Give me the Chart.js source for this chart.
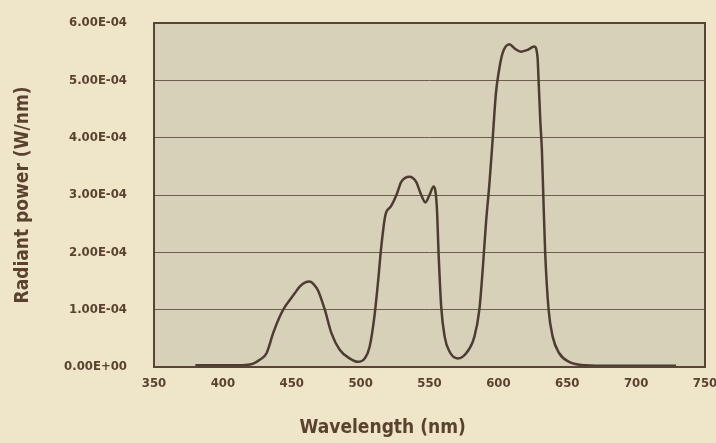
<!DOCTYPE html>
<html>
<head>
<meta charset="utf-8">
<script src="https://cdn.jsdelivr.net/npm/chart.js@4/dist/chart.umd.min.js"></script>
<style>
  html, body { margin: 0; padding: 0; background: #efe5c9; }
  #wrap { width: 716px; height: 443px; position: relative; }
</style>
</head>
<body>
<div id="wrap"><canvas id="chart-spectrum"></canvas></div>
<script>
// wavelength (nm) and radiant power (W/nm)
const wavelengths = [380, 390, 400, 410, 418, 422, 427, 431.7, 436.5, 441.3, 445, 448.6, 452, 455.8, 459.5, 463, 466, 469, 474, 478.8, 484.8, 492, 498, 503, 506.5, 510, 512.5, 515, 518, 522, 526, 529.5, 535.5, 540.3, 544, 547, 550, 553, 555.3, 556.7, 558.5, 561, 564.5, 570.5, 576.6, 582.6, 586.2, 588.6, 591, 593.5, 595.5, 598.2, 600.1, 603, 608, 611.6, 616.4, 621.2, 626, 628.4, 629.2, 630.4, 631.6, 632.6, 634, 636.5, 639.4, 644.2, 651.4, 663.5, 680, 700, 729]
const power = [0.03e-4, 0.03e-4, 0.03e-4, 0.03e-4, 0.04e-4, 0.06e-4, 0.13e-4, 0.24e-4, 0.59e-4, 0.88e-4, 1.05e-4, 1.17e-4, 1.28e-4, 1.40e-4, 1.47e-4, 1.49e-4, 1.44e-4, 1.34e-4, 1.00e-4, 0.59e-4, 0.30e-4, 0.15e-4, 0.09e-4, 0.15e-4, 0.35e-4, 0.88e-4, 1.45e-4, 2.10e-4, 2.65e-4, 2.80e-4, 3.00e-4, 3.23e-4, 3.32e-4, 3.23e-4, 3.00e-4, 2.87e-4, 3.00e-4, 3.15e-4, 2.80e-4, 1.92e-4, 1.05e-4, 0.53e-4, 0.27e-4, 0.15e-4, 0.24e-4, 0.53e-4, 1.00e-4, 1.69e-4, 2.51e-4, 3.20e-4, 3.85e-4, 4.77e-4, 5.12e-4, 5.47e-4, 5.63e-4, 5.56e-4, 5.50e-4, 5.53e-4, 5.59e-4, 5.41e-4, 5.00e-4, 4.31e-4, 3.78e-4, 3.00e-4, 1.98e-4, 0.99e-4, 0.53e-4, 0.24e-4, 0.09e-4, 0.03e-4, 0.02e-4, 0.02e-4, 0.02e-4]
const x_ticks = [350, 400, 450, 500, 550, 600, 650, 700, 750]
const y_ticks = [0, 1e-4, 2e-4, 3e-4, 4e-4, 5e-4, 6e-4]
const x_title = 'Wavelength (nm)'
const y_title = 'Radiant power (W/nm)'

const font_family = '"DejaVu Sans Condensed", "Liberation Sans Narrow", "Roboto Condensed", sans-serif'
const text_color = '#5b4130'

function sci(v){
  if (Math.abs(v) < 1e-12) v = 0
  let parts = v.toExponential(2).split('e')
  let exp = parseInt(parts[1], 10)
  let sign = exp < 0 ? '-' : '+'
  return parts[0] + 'E' + sign + String(Math.abs(exp)).padStart(2, '0')
}

const frame_plugin = {
  id: 'frame',
  beforeDraw(chart){
    const {ctx, chartArea: a} = chart
    ctx.save()
    ctx.fillStyle = '#d8d1ba'
    ctx.fillRect(a.left, a.top, a.right - a.left, a.bottom - a.top)
    ctx.restore()
  },
  afterDraw(chart){
    const {ctx, chartArea: a, scales} = chart
    ctx.save()
    ctx.strokeStyle = '#584434'
    ctx.lineWidth = 2
    ctx.strokeRect(a.left, a.top, a.right - a.left, a.bottom - a.top)

    ctx.fillStyle = text_color
    ctx.textAlign = 'center'
    ctx.textBaseline = 'middle'
    ctx.font = 'bold 19px ' + font_family
    ctx.fillText(x_title, scales.x.getPixelForValue(516), 428)

    ctx.translate(23, (a.top + a.bottom) / 2)
    ctx.rotate(-Math.PI / 2)
    ctx.font = 'bold 19px ' + font_family
    ctx.fillText(y_title, 0, 0)
    ctx.restore()
  }
}

const canvas = document.getElementById('chart-spectrum')

let chart = new Chart(canvas, {
  type: 'line',
  data: {
    datasets: [
      {
        data: wavelengths.map((w, i) => ({x: w, y: power[i]})),
        borderColor: '#4d3c31',
        borderWidth: 2.5,
        pointRadius: 0,
        cubicInterpolationMode: 'monotone',
        fill: false,
      },
    ]
  },
  options: {
    animation: false,
    responsive: true,
    maintainAspectRatio: false,
    layout: {
      padding: {top: 23, right: 11, left: 0, bottom: 0}
    },
    plugins: {
      legend: { display: false },
      tooltip: { enabled: false },
    },
    scales: {
      x: {
        type: 'linear',
        min: 350,
        max: 750,
        afterBuildTicks: scale => { scale.ticks = x_ticks.map(v => ({value: v})) },
        afterFit: scale => {
          scale.height = 76
          scale.paddingLeft = 0
          scale.paddingRight = 0
        },
        grid: { display: false, drawTicks: false },
        border: { display: false },
        ticks: {
          padding: 9,
          color: text_color,
          font: { family: font_family, size: 13, weight: 'bold' },
          maxRotation: 0,
          autoSkip: false,
        }
      },
      y: {
        min: 0,
        max: 6e-4,
        afterBuildTicks: scale => { scale.ticks = y_ticks.map(v => ({value: v})) },
        afterFit: scale => {
          scale.width = 154
          scale.paddingTop = 0
          scale.paddingBottom = 0
        },
        grid: { color: '#6e5e4f', lineWidth: 1, drawTicks: false },
        border: { display: false },
        ticks: {
          padding: 27,
          color: text_color,
          font: { family: font_family, size: 13, weight: 'bold' },
          callback: v => sci(v),
        }
      }
    }
  },
  plugins: [frame_plugin]
})
</script>
</body>
</html>
